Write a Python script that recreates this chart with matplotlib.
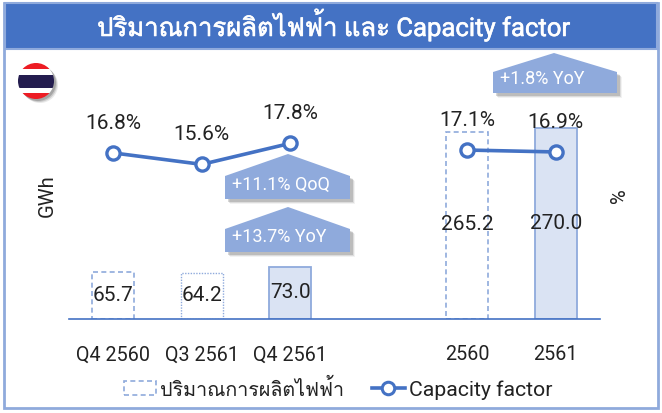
import matplotlib
matplotlib.use("Agg")
import matplotlib.font_manager as fm
import matplotlib.patheffects as pe
import matplotlib.pyplot as plt
from matplotlib.font_manager import get_font
from matplotlib.lines import Line2D
from matplotlib.patches import Circle, Patch, Polygon, Rectangle

categories = ["Q4 2560", "Q3 2561", "Q4 2561", "", "2560", "2561"]
quarter_gwh = [65.7, 64.2, 73.0]
year_gwh = [265.2, 270.0]
quarter_cf = [16.8, 15.6, 17.8]
year_cf = [17.1, 16.9]
quarter_pos = [0, 1, 2]
year_pos = [4, 5]

title = "ปริมาณการผลิตไฟฟ้า และ Capacity factor"
bar_name = "ปริมาณการผลิตไฟฟ้า"
line_name = "Capacity factor"

BLUE = "#4472C4"
LIGHT = "#8FAADC"
PALE = "#DAE3F3"
INK = "#222222"
W, H = 662, 414


def find_thai_font():
    # look for any installed family that really has Thai glyphs
    for f in fm.fontManager.ttflist:
        try:
            if 0x0E1C in get_font(f.fname).get_charmap():
                return f.name
        except Exception:
            pass
    return None


thai = find_thai_font()
plt.rcParams["font.family"] = ["Roboto"] + ([thai] if thai else []) + ["DejaVu Sans"]


def callout(ax, left, right, apex_x, apex_y, shoulder, bottom, text):
    pts = [(left, shoulder), (apex_x, apex_y), (right, shoulder), (right, bottom), (left, bottom)]
    for off, alpha in [(5, 0.08), (4, 0.15), (3, 0.25)]:
        ax.add_patch(Polygon([(x + off, y + off) for x, y in pts], fc="#606060", ec="none", alpha=alpha))
    ax.add_patch(Polygon(pts, fc=LIGHT, ec="none"))
    ax.text(left + 7, (shoulder + bottom) / 2 - 4, text, color="white", fontsize=13, va="center", ha="left")


def draw_flag(ax, cx, cy, r):
    for off, alpha in [(4, 0.12), (3, 0.2), (2, 0.3)]:
        ax.add_patch(Circle((cx + off, cy + off), r, fc="#505050", ec="none", alpha=alpha))
    clip = Circle((cx, cy), r, transform=ax.transData, fc="none", ec="none")
    ax.add_patch(clip)
    for top, bot, col in [(64, 70, "#ED1C24"), (70, 76, "white"), (76, 89, "#241D4F"), (89, 94, "white"), (94, 100, "#ED1C24")]:
        rect = Rectangle((cx - r, top), 2 * r, bot - top, fc=col, ec="none")
        ax.add_patch(rect)
        rect.set_clip_path(clip)


fig = plt.figure(figsize=(W / 100, H / 100), dpi=100, facecolor="white")

deco = fig.add_axes([0, 0, 1, 1], zorder=0)
deco.set_xlim(0, W)
deco.set_ylim(H, 0)
deco.axis("off")
deco.add_patch(Rectangle((4, 4), W - 8, H - 9, fc="white", ec=LIGHT, lw=2))
deco.add_patch(Rectangle((5, 4), W - 10, 46, fc=BLUE, ec=LIGHT, lw=1.5))
deco.text(334, 25.5, title, color="white", fontsize=18.5, ha="center", va="center",
          path_effects=[pe.withStroke(linewidth=0.4, foreground="white")])
draw_flag(deco, 36, 82, 18)
callout(deco, 225, 350, 288, 155, 177, 200, "+11.1% QoQ")
callout(deco, 225, 350, 288, 208, 230, 253, "+13.7% YoY")
callout(deco, 493, 617, 554, 54, 73, 94, "+1.8% YoY")
deco.text(47.5, 196, "GWh", rotation=90, fontsize=14.5, ha="center", va="center", color=INK)
deco.text(619, 196, "%", rotation=90, fontsize=14.5, ha="center", va="center", color=INK)

# axes box: x 69-600, y 50-319 in pixels
ax = fig.add_axes([69 / W, 1 - 319.6 / H, 531 / W, 269 / H], zorder=1)
ax.patch.set_alpha(0)
ax.set_xlim(-0.5, 5.5)
ax.set_ylim(0, 269 / 0.705)
for s in ["top", "left", "right"]:
    ax.spines[s].set_visible(False)
ax.spines["bottom"].set_color(BLUE)
ax.spines["bottom"].set_linewidth(1.2)
ax.set_yticks([])
ax.set_xticks(range(len(categories)))
ax.set_xticklabels(categories, fontsize=14.2, color=INK)
ax.tick_params(axis="x", length=0, pad=18.5)

width = 0.475
dash = (0, (3, 2))
ax.bar(0, quarter_gwh[0], width, fc="none", ec=LIGHT, ls=dash, lw=1.2)
ax.bar(1, quarter_gwh[1], width, fc="none", ec=LIGHT, ls=(0, (1, 1)), lw=1.0)
ax.bar(2, quarter_gwh[2], width, fc=PALE, ec=LIGHT, lw=1.3)
ax.bar(4, year_gwh[0], width, fc="none", ec=LIGHT, ls=dash, lw=1.2)
ax.bar(5, year_gwh[1], width, fc=PALE, ec=LIGHT, lw=1.3)

for x, v in zip(quarter_pos + year_pos, quarter_gwh + year_gwh):
    ax.annotate(f"{v:.1f}", (x, v / 2), xytext=(0, 1), textcoords="offset points",
                ha="center", va="center", fontsize=15, color=INK)

ax2 = ax.twinx()
ax2.set_zorder(2)
ax2.patch.set_alpha(0)
ax2.set_ylim(-0.55, -0.55 + 269 / 9.55)
ax2.axis("off")
line_kw = dict(color=BLUE, lw=2.6, marker="o", ms=9.5, mfc="white", mec=BLUE, mew=2.4)
ax2.plot(quarter_pos, quarter_cf, **line_kw)
ax2.plot(year_pos, year_cf, **line_kw)

for x, v in zip(quarter_pos + year_pos, quarter_cf + year_cf):
    ax2.annotate(f"{v:.1f}%", (x, v), xytext=(0, 22), textcoords="offset points",
                 ha="center", va="center", fontsize=15, color=INK)

handles = [
    Patch(fc="none", ec=LIGHT, ls=dash, lw=1.2),
    Line2D([], [], color=BLUE, lw=2.6, marker="o", ms=9, mfc="white", mec=BLUE, mew=2.2),
]
leg = fig.legend(handles, [bar_name, line_name], loc="center", bbox_to_anchor=(338 / W, 1 - 389.5 / H),
                 ncols=2, frameon=False, fontsize=14.2, handlelength=1.65, handletextpad=0.2,
                 columnspacing=1.4, labelcolor=INK)
leg.get_texts()[1].set_fontsize(15.3)

fig.savefig("out.png", dpi=100)
plt.close(fig)
